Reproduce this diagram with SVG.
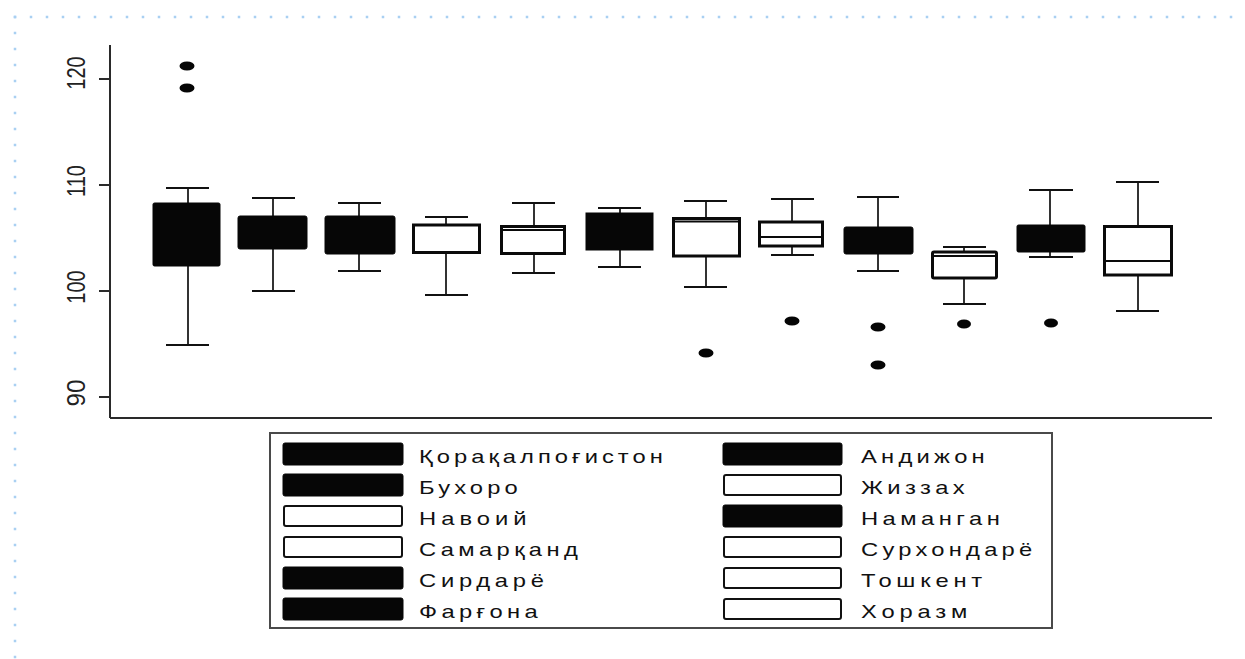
<svg xmlns="http://www.w3.org/2000/svg" width="1245" height="659" viewBox="0 0 1245 659">
<style>
.dot{stroke:#a9d0f2;stroke-width:2.5;stroke-dasharray:2.5 13.5;fill:none}
.axis{stroke:#2a2a2a;stroke-width:2;fill:none}
.stem{stroke:#333;stroke-width:2}
.cap{stroke:#111;stroke-width:2}
.bb{fill:#060606;stroke:#060606;stroke-width:1}
.wb{fill:#fff;stroke:#0a0a0a;stroke-width:3}
.med{stroke:#0a0a0a;stroke-width:2}
.out{fill:#050505}
.ylab{font-family:"Liberation Sans",Arial,sans-serif;font-size:20px;fill:#222;text-anchor:middle}
.lg{font-family:"Liberation Sans",Arial,sans-serif;font-size:19px;fill:#111}
.sb{fill:#060606;stroke:#060606;stroke-width:1}
.sw{fill:#fff;stroke:#111;stroke-width:2}
.frame{fill:#fff;stroke:#4a4a4a;stroke-width:2}
</style>
<rect x="0" y="0" width="1245" height="659" fill="#fff"/>
<g id="border">
<line class="dot" x1="13.75" y1="17" x2="1240" y2="17"/>
<line class="dot" x1="15" y1="15.75" x2="15" y2="659"/>
</g>
<g id="axes">
<line class="axis" x1="110" y1="45" x2="110" y2="418"/>
<line class="axis" x1="110" y1="418" x2="1212" y2="418"/>
<line class="axis" x1="99" y1="79" x2="110" y2="79"/>
<line class="axis" x1="99" y1="185" x2="110" y2="185"/>
<line class="axis" x1="99" y1="291" x2="110" y2="291"/>
<line class="axis" x1="99" y1="397" x2="110" y2="397"/>
<text class="ylab" transform="matrix(0,-1,1.26,0,85,73)">120</text>
<text class="ylab" transform="matrix(0,-1,1.26,0,85,181)">110</text>
<text class="ylab" transform="matrix(0,-1,1.26,0,85,287)">100</text>
<text class="ylab" transform="matrix(0,-1,1.26,0,85,393)" textLength="27" lengthAdjust="spacingAndGlyphs">90</text>
</g>
<g id="connectors">
<line class="stem" x1="188" y1="188" x2="188" y2="345"/><line class="cap" x1="166" y1="188" x2="209" y2="188"/><line class="cap" x1="166" y1="345" x2="209" y2="345"/>
<line class="stem" x1="273" y1="198" x2="273" y2="291"/><line class="cap" x1="252" y1="198" x2="295" y2="198"/><line class="cap" x1="252" y1="291" x2="295" y2="291"/>
<line class="stem" x1="359" y1="203" x2="359" y2="271"/><line class="cap" x1="338" y1="203" x2="381" y2="203"/><line class="cap" x1="338" y1="271" x2="381" y2="271"/>
<line class="stem" x1="446" y1="217" x2="446" y2="295"/><line class="cap" x1="425" y1="217" x2="468" y2="217"/><line class="cap" x1="425" y1="295" x2="468" y2="295"/>
<line class="stem" x1="534" y1="203" x2="534" y2="273"/><line class="cap" x1="512" y1="203" x2="555" y2="203"/><line class="cap" x1="512" y1="273" x2="555" y2="273"/>
<line class="stem" x1="620" y1="208" x2="620" y2="267"/><line class="cap" x1="598" y1="208" x2="641" y2="208"/><line class="cap" x1="598" y1="267" x2="641" y2="267"/>
<line class="stem" x1="706" y1="201" x2="706" y2="287"/><line class="cap" x1="684" y1="201" x2="727" y2="201"/><line class="cap" x1="684" y1="287" x2="727" y2="287"/>
<line class="stem" x1="792" y1="199" x2="792" y2="255"/><line class="cap" x1="771" y1="199" x2="814" y2="199"/><line class="cap" x1="771" y1="255" x2="814" y2="255"/>
<line class="stem" x1="878" y1="197" x2="878" y2="271"/><line class="cap" x1="857" y1="197" x2="899" y2="197"/><line class="cap" x1="857" y1="271" x2="899" y2="271"/>
<line class="stem" x1="964" y1="247" x2="964" y2="304"/><line class="cap" x1="943" y1="247" x2="986" y2="247"/><line class="cap" x1="943" y1="304" x2="986" y2="304"/>
<line class="stem" x1="1050" y1="190" x2="1050" y2="257"/><line class="cap" x1="1029" y1="190" x2="1073" y2="190"/><line class="cap" x1="1029" y1="257" x2="1073" y2="257"/>
<line class="stem" x1="1138" y1="182" x2="1138" y2="311"/><line class="cap" x1="1116" y1="182" x2="1159" y2="182"/><line class="cap" x1="1116" y1="311" x2="1159" y2="311"/>
</g>
<g id="box1"><rect class="bb" x="153" y="203" width="67" height="63" rx="1.5"/><ellipse class="out" cx="187" cy="66" rx="7.5" ry="4.5"/><ellipse class="out" cx="187" cy="88" rx="7.5" ry="4.5"/></g>
<g id="box2"><rect class="bb" x="238" y="216" width="69" height="33" rx="2"/></g>
<g id="box3"><rect class="bb" x="325" y="216" width="70" height="38" rx="2"/></g>
<g id="box4"><rect class="wb" x="413.5" y="225" width="66" height="27.5"/></g>
<g id="box5"><rect class="wb" x="501.5" y="226.5" width="63" height="27"/><line class="med" x1="502" y1="230" x2="564" y2="230"/></g>
<g id="box6"><rect class="bb" x="586" y="213" width="67" height="37"/></g>
<g id="box7"><rect class="wb" x="673.5" y="218.5" width="66" height="37.5"/><line class="med" x1="674" y1="221.5" x2="739" y2="221.5"/><ellipse class="out" cx="706" cy="353" rx="7.5" ry="4.5"/></g>
<g id="box8"><rect class="wb" x="759.5" y="222" width="63" height="24"/><line class="med" x1="760" y1="237" x2="822" y2="237"/><ellipse class="out" cx="792" cy="321" rx="7.5" ry="4.5"/></g>
<g id="box9"><rect class="bb" x="844" y="227" width="69" height="27" rx="2"/><ellipse class="out" cx="878" cy="327" rx="7.5" ry="4.5"/><ellipse class="out" cx="878" cy="365" rx="7.5" ry="4.5"/></g>
<g id="box10"><rect class="wb" x="932.5" y="252" width="64" height="26" rx="1.5"/><line class="med" x1="933" y1="256" x2="996" y2="256"/><ellipse class="out" cx="964" cy="324" rx="7" ry="4.5"/></g>
<g id="box11"><rect class="bb" x="1017" y="225" width="68" height="27" rx="1.5"/><ellipse class="out" cx="1051" cy="323" rx="7" ry="4.5"/></g>
<g id="box12"><rect class="wb" x="1104.5" y="226.5" width="67" height="48.5"/><line class="med" x1="1105" y1="261" x2="1171" y2="261"/></g>
<g id="legend">
<rect class="frame" x="270" y="433" width="782" height="195"/>
<rect class="sb" x="283" y="443" width="120" height="22" rx="2"/>
<rect class="sb" x="283" y="474" width="120" height="22" rx="2"/>
<rect class="sw" x="284" y="506" width="118" height="20" rx="2"/>
<rect class="sw" x="284" y="537" width="118" height="20" rx="2"/>
<rect class="sb" x="283" y="567" width="120" height="22" rx="2"/>
<rect class="sb" x="283" y="598" width="120" height="22" rx="2"/>
<rect class="sb" x="723" y="443" width="119" height="22" rx="2"/>
<rect class="sw" x="724" y="475" width="117" height="20" rx="2"/>
<rect class="sb" x="723" y="505" width="119" height="22" rx="2"/>
<rect class="sw" x="724" y="537" width="117" height="20" rx="2"/>
<rect class="sw" x="724" y="568" width="117" height="20" rx="2"/>
<rect class="sw" x="724" y="599" width="117" height="20" rx="2"/>
<text class="lg" transform="translate(419,463) scale(1.25,1)" textLength="195" lengthAdjust="spacing">Қорақалпоғистон</text>
<text class="lg" transform="translate(419,494) scale(1.25,1)" textLength="79" lengthAdjust="spacing">Бухоро</text>
<text class="lg" transform="translate(419,525) scale(1.25,1)" textLength="86" lengthAdjust="spacing">Навоий</text>
<text class="lg" transform="translate(419,556) scale(1.25,1)" textLength="127" lengthAdjust="spacing">Самарқанд</text>
<text class="lg" transform="translate(419,587) scale(1.25,1)" textLength="100" lengthAdjust="spacing">Сирдарё</text>
<text class="lg" transform="translate(419,618) scale(1.25,1)" textLength="95" lengthAdjust="spacing">Фарғона</text>
<text class="lg" transform="translate(861,463) scale(1.25,1)" textLength="99" lengthAdjust="spacing">Андижон</text>
<text class="lg" transform="translate(861,494) scale(1.25,1)" textLength="83" lengthAdjust="spacing">Жиззах</text>
<text class="lg" transform="translate(861,525) scale(1.25,1)" textLength="111" lengthAdjust="spacing">Наманган</text>
<text class="lg" transform="translate(861,556) scale(1.25,1)" textLength="137" lengthAdjust="spacing">Сурхондарё</text>
<text class="lg" transform="translate(861,587) scale(1.25,1)" textLength="97" lengthAdjust="spacing">Тошкент</text>
<text class="lg" transform="translate(861,618) scale(1.25,1)" textLength="85" lengthAdjust="spacing">Хоразм</text>
</g>
</svg>
